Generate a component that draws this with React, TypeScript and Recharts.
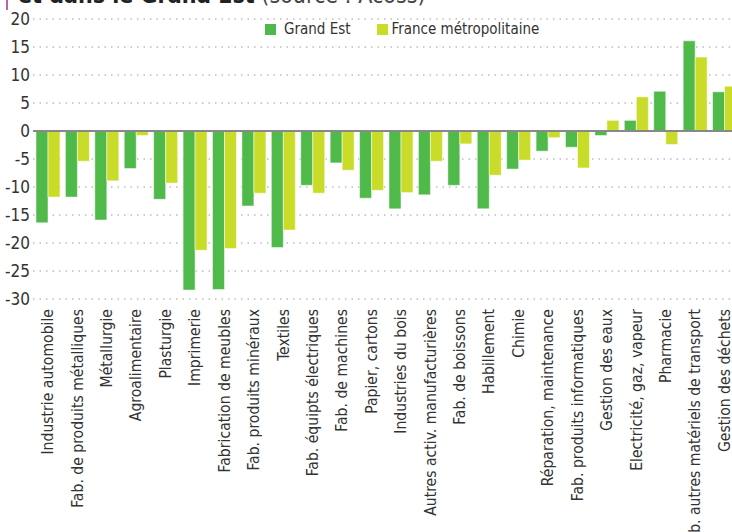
import React from 'react';
import { BarChart, Bar, XAxis, YAxis, CartesianGrid, ReferenceLine } from 'recharts';

const categories = [
  'Industrie automobile',
  'Fab. de produits métalliques',
  'Métallurgie',
  'Agroalimentaire',
  'Plasturgie',
  'Imprimerie',
  'Fabrication de meubles',
  'Fab. produits minéraux',
  'Textiles',
  'Fab. équipts électriques',
  'Fab. de machines',
  'Papier, cartons',
  'Industries du bois',
  'Autres activ. manufacturières',
  'Fab. de boissons',
  'Habillement',
  'Chimie',
  'Réparation, maintenance',
  'Fab. produits informatiques',
  'Gestion des eaux',
  'Electricité, gaz, vapeur',
  'Pharmacie',
  'Fab. autres matériels de transport',
  'Gestion des déchets',
];

const grandEst = [
  -16.4, -11.8, -15.9, -6.7, -12.2, -28.4, -28.3, -13.4, -20.8, -9.7, -5.7, -12.0,
  -13.9, -11.4, -9.7, -13.9, -6.8, -3.6, -2.9, -0.8, 1.9, 7.1, 16.1, 7.0,
];

const franceMetro = [
  -11.8, -5.4, -8.9, -0.8, -9.3, -21.3, -21.0, -11.1, -17.7, -11.1, -7.0, -10.6,
  -11.0, -5.4, -2.3, -7.9, -5.2, -1.2, -6.6, 1.9, 6.1, -2.4, 13.2, 8.0,
];

const yTicks = [-30, -25, -20, -15, -10, -5, 0, 5, 10, 15, 20];

const GREEN = '#4fb94a';
const YELLOW = '#cadc2a';
const FONT = '"Liberation Sans Narrow", "DejaVu Sans Condensed", Roboto, sans-serif';

const data = categories.map((name, i) => ({
  name,
  ge: grandEst[i],
  fm: franceMetro[i],
}));

const CategoryTick = ({ x, y, payload }: any) => (
  <g transform={`translate(${x},${y})`}>
    <text
      transform="rotate(-90)"
      textAnchor="end"
      dy="0.35em"
      fill="#333"
      fontSize={15.6}
      fontFamily={FONT}
    >
      {payload.value}
    </text>
  </g>
);

export default function App() {
  return (
    <div
      style={{
        position: 'fixed',
        left: 0,
        top: 0,
        width: 732,
        height: 532,
        overflow: 'hidden',
        background: '#fff',
      }}
    >
      {/* titre coupé en haut de l'image */}
      <div style={{ position: 'absolute', left: 6, top: 0, width: 2, height: 10, background: '#c060b0' }} />
      <div
        style={{
          position: 'absolute',
          left: 18,
          top: -18,
          whiteSpace: 'nowrap',
          fontFamily: FONT,
          fontSize: 23,
          color: '#222',
        }}
      >
        <b>et dans le Grand Est</b> <span style={{ color: '#444' }}>(source : Acoss)</span>
      </div>
      <BarChart
        width={745}
        height={532}
        data={data}
        margin={{ top: 19, right: 6, left: 0, bottom: 0 }}
        barGap={0}
        barSize={12}
      >
        <CartesianGrid vertical={false} stroke="#999" strokeDasharray="1.5 5" />
        <XAxis
          dataKey="name"
          interval={0}
          height={233}
          axisLine={false}
          tickLine={false}
          tickSize={0}
          tickMargin={10}
          tick={<CategoryTick />}
        />
        <YAxis
          domain={[-30, 20]}
          ticks={yTicks}
          interval={0}
          width={33}
          axisLine={false}
          tickLine={false}
          tickSize={0}
          tickMargin={3}
          tick={{ fill: '#333', fontSize: 17, fontFamily: FONT }}
        />
        <Bar dataKey="ge" name="Grand Est" fill={GREEN} stroke="rgba(255,255,255,0.5)" strokeWidth={1} isAnimationActive={false} />
        <Bar dataKey="fm" name="France métropolitaine" fill={YELLOW} stroke="rgba(255,255,255,0.5)" strokeWidth={1} isAnimationActive={false} />
        <ReferenceLine y={0} stroke="#888" strokeWidth={2} />
      </BarChart>
      {/* légende posée dans la zone du graphique */}
      <div
        style={{
          position: 'absolute',
          left: 265,
          top: 20,
          display: 'flex',
          alignItems: 'center',
          fontFamily: FONT,
          fontSize: 15,
          color: '#333',
          whiteSpace: 'nowrap',
        }}
      >
        <span style={{ width: 11, height: 11, background: GREEN, display: 'inline-block', marginRight: 8 }} />
        <span style={{ marginRight: 26 }}>Grand Est</span>
        <span style={{ width: 11, height: 11, background: YELLOW, display: 'inline-block', marginRight: 4 }} />
        <span>France métropolitaine</span>
      </div>
    </div>
  );
}
